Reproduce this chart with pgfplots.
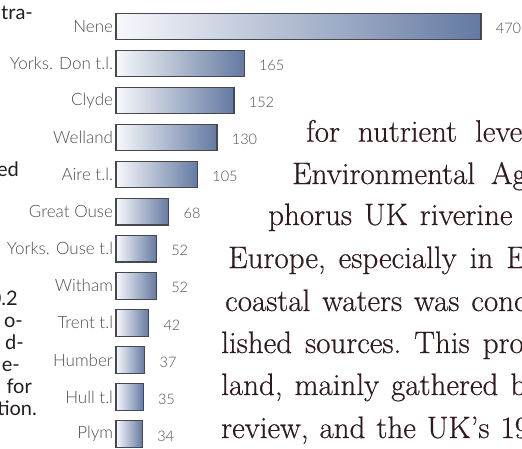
\documentclass[border=0pt]{standalone}
\usepackage{pgfplots}
\pgfplotsset{compat=1.18}
\usepackage{fontspec}
\newfontfamily\labfont{Lato Light}
\newfontfamily\sidefont{Lato}
\newfontfamily\bodyfont{Latin Modern Roman}[FakeBold=0.5]
\definecolor{barL}{RGB}{247,248,252}
\definecolor{barR}{RGB}{100,122,162}
\definecolor{txt}{RGB}{48,26,30}
\definecolor{side}{RGB}{35,30,30}
\definecolor{lab}{RGB}{78,78,78}
\definecolor{bdr}{RGB}{70,72,78}
\pgfplotsset{mybar/.style={xbar, bar width=26.5pt, draw=bdr, line width=1.1pt, left color=barL, right color=barR}}
\begin{document}
\begin{tikzpicture}[x=1pt,y=1pt]
\useasboundingbox (0,0) rectangle (522,448);
% background text fragments
\begin{scope}[every node/.style={inner sep=0pt, text=txt, font=\bodyfont\fontsize{31}{31}\selectfont}]
\node[anchor=base west] at (306,306.3) {for\hspace{18pt}nutrient\hspace{18pt}levels};
\node[anchor=base west] at (292,264) {Environmental\hspace{16pt}Agency};
\node[anchor=base west] at (268,223) {phorus\hspace{12pt}UK\hspace{12pt}riverine\hspace{12pt}inputs};
\node[anchor=base west] at (228,180) {Europe,\hspace{13pt}especially\hspace{13pt}in\hspace{13pt}England};
\node[anchor=base west] at (225,137) {coastal\hspace{12pt}waters\hspace{12pt}was\hspace{12pt}concerned};
\node[anchor=base west] at (221,95) {lished\hspace{13pt}sources.\hspace{13pt}This\hspace{13pt}project};
\node[anchor=base west] at (221,53) {land,\hspace{12pt}mainly\hspace{12pt}gathered\hspace{12pt}by};
\node[anchor=base west] at (221,10) {review,\hspace{11pt}and\hspace{11pt}the\hspace{11pt}UK’s\hspace{11pt}1990};
\end{scope}
\begin{scope}[every node/.style={inner sep=0pt, text=side, font=\sidefont\fontsize{20}{20}\selectfont}]
\node[anchor=base west] at (1,428) {tra-};
\node[anchor=base east] at (19,272) {ed};
\node[anchor=base east] at (18,143) {0.2};
\node[anchor=base east] at (23,121) {o-};
\node[anchor=base east] at (24,99) {d-};
\node[anchor=base east] at (20,77) {e-};
\node[anchor=base east] at (32,55) {for};
\node[anchor=base east] at (37,33) {tion.};
\end{scope}
\begin{axis}[
  at={(116pt,14pt)}, anchor=south west,
  scale only axis, width=365pt, height=407.5pt,
  xmin=0, xmax=470, ymin=0, ymax=11,
  clip=false,
  axis line style={draw=none},
  major tick length=0pt,
  xtick=\empty,
  ytick={0,...,11},
  yticklabels={Plym, Hull t.l, Humber, Trent t.l, Witham, Yorks. Ouse t.l, Great Ouse, Aire t.l., Welland, Clyde, Yorks. Don t.l., Nene},
  yticklabel style={font=\labfont\fontsize{17}{17}\selectfont, text=lab, xshift=0.5pt},
  point meta=x,
  nodes near coords,
  nodes near coords style={anchor=west, xshift=11pt, yshift=-2pt, font=\labfont\fontsize{14.5}{14.5}\selectfont, text=lab},
  /pgf/number format/assume math mode=true,
]
\addplot[mybar] coordinates {(34,0)};
\addplot[mybar] coordinates {(35,1)};
\addplot[mybar] coordinates {(37,2)};
\addplot[mybar] coordinates {(42,3)};
\addplot[mybar] coordinates {(52,4)};
\addplot[mybar] coordinates {(52,5)};
\addplot[mybar] coordinates {(68,6)};
\addplot[mybar] coordinates {(105,7)};
\addplot[mybar] coordinates {(130,8)};
\addplot[mybar] coordinates {(152,9)};
\addplot[mybar] coordinates {(165,10)};
\addplot[mybar] coordinates {(470,11)};
\end{axis}
\end{tikzpicture}
\end{document}
